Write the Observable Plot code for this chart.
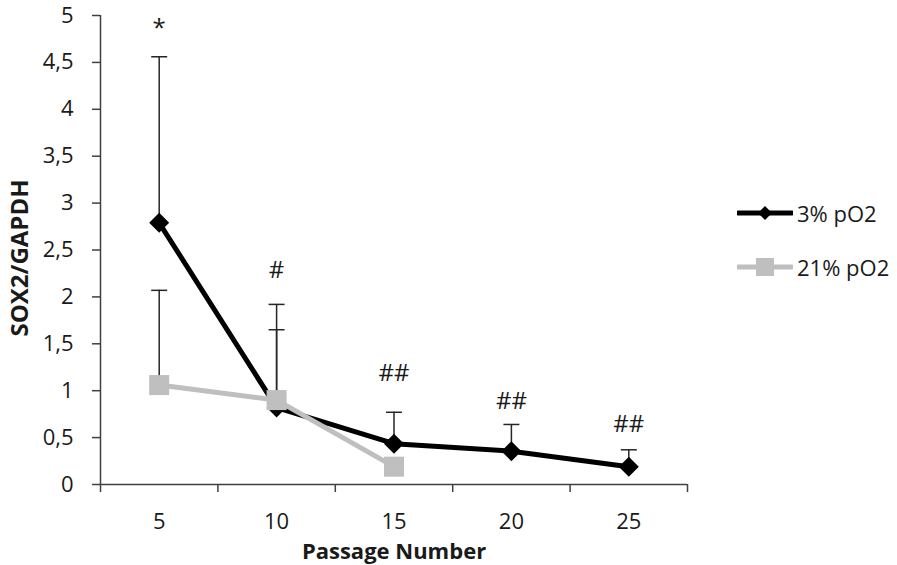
<!DOCTYPE html>
<html>
<head>
<meta charset="utf-8">
<script src="https://cdn.jsdelivr.net/npm/d3@7"></script>
<script src="https://cdn.jsdelivr.net/npm/@observablehq/plot@0.6"></script>
<style>
  body { margin: 0; background: #fff; }
  #chart { position: relative; width: 897px; height: 565px; font-family: "Open Sans", sans-serif; }
  #legend { position: absolute; left: 737px; top: 0; }
  .row { position: absolute; left: 0; display: flex; align-items: center; white-space: nowrap;
         font-size: 22px; color: #1a1a1a; height: 28px; }
  .row svg { margin-right: 4px; }
</style>
</head>
<body>
<div id="chart"></div>
<script>
// Passage numbers on the x axis
const passages = [5, 10, 15, 20, 25];

// SOX2/GAPDH under 3% pO2: mean and standard deviation
const mean3 = [2.79, 0.82, 0.435, 0.355, 0.19];
const sd3 = [1.77, 1.10, 0.335, 0.285, 0.18];

// SOX2/GAPDH under 21% pO2 (measured up to passage 15)
const passages21 = [5, 10, 15];
const mean21 = [1.06, 0.90, 0.19];
const sd21 = [1.01, 0.75, null];

// Significance marks above each passage and the level they sit at
const sigMarks = ["*", "#", "##", "##", "##"];
const sigLevels = [4.86, 2.28, 1.19, 0.89, 0.64];

const yTicks = [0, 0.5, 1, 1.5, 2, 2.5, 3, 3.5, 4, 4.5, 5];
const seriesNames = ["3% pO2", "21% pO2"];
const seriesColors = ["#000000", "#bfbfbf"];

const axisColor = "#404040";
const textColor = "#1a1a1a";
const font = '"Open Sans", sans-serif';

const s3 = passages.map((p, i) => ({passage: p, mean: mean3[i], upper: mean3[i] + sd3[i]}));
const s21 = passages21.map((p, i) => ({passage: p, mean: mean21[i], upper: sd21[i] == null ? null : mean21[i] + sd21[i]}));
const sig = passages.map((p, i) => ({passage: p, level: sigLevels[i], mark: sigMarks[i]}));

// Category boundaries: ticks sit between passages, labels on them
const step = passages[1] - passages[0];
const boundaries = [...passages.map(p => p - step / 2), passages[passages.length - 1] + step / 2];

const commaFormat = d => String(d).replace(".", ",");

// Short horizontal stroke used as error-bar cap
const capSymbol = {
  draw(ctx, size) {
    const h = Math.sqrt(size / Math.PI);
    ctx.moveTo(-h, 0);
    ctx.lineTo(h, 0);
  }
};

const errorBars = rows => [
  Plot.ruleX(rows.filter(d => d.upper != null), {x: "passage", y1: "mean", y2: "upper", stroke: "#262626", strokeWidth: 1.5}),
  Plot.dot(rows.filter(d => d.upper != null), {x: "passage", y: "upper", symbol: capSymbol, r: 8, fill: "none", stroke: "#262626", strokeWidth: 1.5})
];

const chart = Plot.plot({
  width: 897,
  height: 565,
  marginLeft: 100,
  marginRight: 210,
  marginTop: 15,
  marginBottom: 81,
  style: {fontFamily: font, fontSize: "22px", color: textColor, background: "white"},
  x: {type: "linear", domain: [boundaries[0], boundaries[boundaries.length - 1]]},
  y: {domain: [0, 5]},
  marks: [
    Plot.axisY({ticks: yTicks, tickSize: 8, tickPadding: 19, tickFormat: commaFormat, label: null,
                stroke: axisColor, strokeWidth: 1.5, strokeOpacity: 1, fontSize: 22, fill: textColor}),
    Plot.axisX({ticks: boundaries, tickSize: 8, tickFormat: () => "", label: null,
                stroke: axisColor, strokeWidth: 1.5, strokeOpacity: 1}),
    Plot.axisX({ticks: passages, tickSize: 0, tickPadding: 29, label: null, fontSize: 22, fill: textColor}),
    Plot.ruleY([0], {stroke: axisColor, strokeWidth: 1.5}),
    Plot.ruleX([boundaries[0]], {stroke: axisColor, strokeWidth: 1.5}),

    ...errorBars(s3),
    ...errorBars(s21),

    Plot.line(s3, {x: "passage", y: "mean", stroke: seriesColors[0], strokeWidth: 5, strokeLinejoin: "round"}),
    Plot.dot(s3, {x: "passage", y: "mean", symbol: "diamond2", r: 9, fill: seriesColors[0], stroke: "none"}),

    Plot.line(s21, {x: "passage", y: "mean", stroke: seriesColors[1], strokeWidth: 5, strokeLinejoin: "round"}),
    Plot.dot(s21, {x: "passage", y: "mean", symbol: "square", r: 11.3, fill: seriesColors[1], stroke: "none"}),

    Plot.text(sig, {x: "passage", y: "level", text: "mark", fontSize: 24, fill: textColor}),

    Plot.text(["Passage Number"], {text: d => d, frameAnchor: "bottom", textAnchor: "middle", lineAnchor: "middle",
                                   dy: 67, fontSize: 22, fontWeight: "bold", fill: textColor}),
    Plot.text(["SOX2/GAPDH"], {text: d => d, frameAnchor: "left", textAnchor: "middle", lineAnchor: "middle",
                               dx: -80, dy: 8, rotate: -90, fontSize: 24, fontWeight: "bold", fill: textColor})
  ]
});

const container = document.getElementById("chart");
container.appendChild(chart);

// Legend to the right of the plot
const legend = document.createElement("div");
legend.id = "legend";
const rowCenters = [213, 267];
seriesNames.forEach((name, i) => {
  const row = document.createElement("div");
  row.className = "row";
  row.style.top = (rowCenters[i] - 14) + "px";
  const marker = i === 0
    ? `<path d="M28,7 L35,14 L28,21 L21,14 Z" fill="${seriesColors[0]}"/>`
    : `<rect x="19" y="5" width="18" height="18" fill="${seriesColors[1]}"/>`;
  row.innerHTML = `<svg width="56" height="28"><line x1="1" y1="14" x2="55" y2="14" stroke="${seriesColors[i]}" stroke-width="5" stroke-linecap="round"/>${marker}</svg><span>${name}</span>`;
  legend.appendChild(row);
});
container.appendChild(legend);
</script>
</body>
</html>
